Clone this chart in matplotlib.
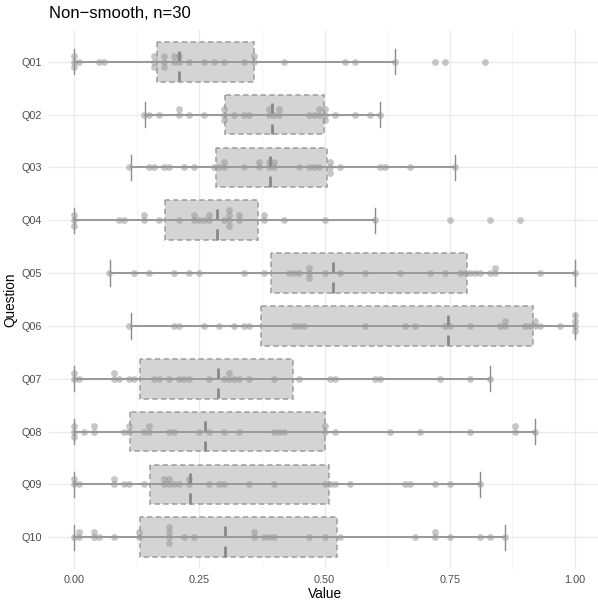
from matplotlib import pyplot as plt
import numpy as np

# values
questions = ['Q01', 'Q02', 'Q03', 'Q04', 'Q05', 'Q06', 'Q07', 'Q08', 'Q09', 'Q10']

q01 = [0, 0, 0, 0.01, 0.05, 0.06, 0.16, 0.16, 0.16, 0.18, 0.18, 0.18, 0.20, 0.20, 0.21, 0.21,
       0.23, 0.26, 0.28, 0.30, 0.34, 0.36, 0.36, 0.42, 0.54, 0.56, 0.64, 0.72, 0.74, 0.82]
q02 = [0.14, 0.15, 0.17, 0.21, 0.21, 0.23, 0.26, 0.30, 0.30, 0.30, 0.32, 0.34, 0.35, 0.39, 0.39,
       0.40, 0.41, 0.41, 0.47, 0.48, 0.49, 0.49, 0.50, 0.50, 0.50, 0.52, 0.56, 0.59, 0.61]
q03 = [0.11, 0.15, 0.16, 0.18, 0.19, 0.22, 0.24, 0.28, 0.29, 0.30, 0.30, 0.34, 0.37, 0.37, 0.39,
       0.39, 0.40, 0.40, 0.45, 0.47, 0.48, 0.49, 0.51, 0.51, 0.51, 0.53, 0.61, 0.62, 0.67, 0.76]
q04 = [0, 0, 0, 0.09, 0.10, 0.14, 0.14, 0.17, 0.21, 0.24, 0.24, 0.25, 0.26, 0.27, 0.27, 0.30,
       0.31, 0.31, 0.31, 0.31, 0.33, 0.33, 0.38, 0.38, 0.42, 0.50, 0.60, 0.75, 0.83, 0.89]
q05 = [0.07, 0.12, 0.15, 0.20, 0.23, 0.25, 0.34, 0.38, 0.43, 0.44, 0.45, 0.47, 0.47, 0.47, 0.50,
       0.53, 0.58, 0.65, 0.71, 0.74, 0.77, 0.78, 0.79, 0.80, 0.81, 0.83, 0.84, 0.84, 0.93, 1.00]
q06 = [0.11, 0.20, 0.21, 0.26, 0.29, 0.32, 0.34, 0.35, 0.44, 0.45, 0.46, 0.58, 0.66, 0.68, 0.74,
       0.75, 0.79, 0.85, 0.86, 0.86, 0.90, 0.91, 0.92, 0.92, 0.93, 0.97, 1.00, 1.00, 1.00, 1.00]
q07 = [0, 0, 0.01, 0.08, 0.08, 0.09, 0.11, 0.12, 0.16, 0.17, 0.19, 0.21, 0.22, 0.23, 0.27, 0.30,
       0.31, 0.31, 0.32, 0.33, 0.35, 0.40, 0.45, 0.51, 0.52, 0.60, 0.61, 0.73, 0.79, 0.83]
q08 = [0, 0, 0, 0.02, 0.04, 0.04, 0.10, 0.11, 0.11, 0.14, 0.15, 0.15, 0.19, 0.20, 0.25, 0.27,
       0.30, 0.33, 0.40, 0.41, 0.42, 0.50, 0.50, 0.52, 0.63, 0.69, 0.79, 0.88, 0.88, 0.92]
q09 = [0, 0, 0.01, 0.08, 0.08, 0.10, 0.11, 0.14, 0.18, 0.18, 0.19, 0.19, 0.20, 0.21, 0.23, 0.23,
       0.27, 0.29, 0.30, 0.35, 0.40, 0.50, 0.51, 0.52, 0.55, 0.66, 0.67, 0.72, 0.75, 0.81]
q10 = [0, 0.01, 0.01, 0.04, 0.04, 0.05, 0.08, 0.13, 0.13, 0.19, 0.19, 0.19, 0.19, 0.22, 0.24,
       0.36, 0.36, 0.38, 0.39, 0.40, 0.47, 0.50, 0.53, 0.68, 0.72, 0.72, 0.75, 0.81, 0.83, 0.86]
all_values = [q01, q02, q03, q04, q05, q06, q07, q08, q09, q10]

# box stats as drawn in the reference
box_q1 = [0.165, 0.301, 0.284, 0.181, 0.393, 0.374, 0.132, 0.112, 0.151, 0.132]
box_med = [0.210, 0.396, 0.391, 0.286, 0.516, 0.746, 0.287, 0.262, 0.232, 0.301]
box_q3 = [0.360, 0.499, 0.505, 0.368, 0.785, 0.917, 0.438, 0.500, 0.508, 0.524]
whisk_lo = [0.0, 0.142, 0.113, 0.0, 0.072, 0.113, 0.0, 0.0, 0.0, 0.0]
whisk_hi = [0.64, 0.61, 0.76, 0.60, 1.00, 1.00, 0.83, 0.92, 0.81, 0.86]

x_ticks = [0, 0.25, 0.5, 0.75, 1.0]
x_ticklabels = ['0.00', '0.25', '0.50', '0.75', '1.00']

STACK_STEP = 0.1
LINE_GRAY = '#9a9a9a'


def stack_offsets(vals, step):
  order = [0, -1, 1, -2, 2, -3, 3]
  counts = {}
  offs = []
  for v in vals:
    k = counts.get(v, 0)
    counts[v] = k + 1
    offs.append(order[k] * step)
  return np.array(offs)


plt.rcParams['font.family'] = ['Liberation Sans', 'DejaVu Sans']

fig = plt.figure(figsize = (5.98, 6.0), dpi = 100)
ax = fig.add_axes([49 / 598, 31 / 600, 551 / 598, 539 / 600])

positions = np.arange(1, len(questions) + 1)

stats = []
for i, q in enumerate(questions):
  stats.append({'label': q, 'q1': box_q1[i], 'med': box_med[i], 'q3': box_q3[i],
                'whislo': whisk_lo[i], 'whishi': whisk_hi[i], 'fliers': []})

bp = ax.bxp(stats, positions = positions, widths = 0.75, capwidths = 0.48,
            orientation = 'horizontal', patch_artist = True, showfliers = False,
            boxprops = dict(facecolor = '#d4d4d4', edgecolor = '#9c9c9c', linewidth = 1.1,
                            linestyle = (0, (3.5, 2.2))),
            whiskerprops = dict(color = LINE_GRAY, linewidth = 1.4),
            capprops = dict(color = '#8c8c8c', linewidth = 1.0),
            medianprops = dict(linewidth = 0))
for b in bp['boxes']:
  b.set_zorder(2)

# whisker line runs straight through the box
ax.hlines(positions, whisk_lo, whisk_hi, color = LINE_GRAY, linewidth = 1.4, zorder = 3)

for i, vals in enumerate(all_values):
  ys = positions[i] + stack_offsets(vals, STACK_STEP)
  ax.scatter(vals, ys, s = 24, color = '#999999', alpha = 0.55, linewidths = 0, zorder = 4)

# split median marks
ax.vlines(box_med, positions - 0.21, positions - 0.02, color = '#888888', linewidth = 2.0, zorder = 5)
ax.vlines(box_med, positions + 0.17, positions + 0.37, color = '#888888', linewidth = 2.0, zorder = 5)

ax.set_xlim(-0.05, 1.05)
ax.set_ylim(len(questions) + 0.6, 0.4)
ax.set_yticks(positions)
ax.set_yticklabels(questions)
ax.set_xticks(x_ticks)
ax.set_xticklabels(x_ticklabels)
ax.set_xticks([0.125, 0.375, 0.625, 0.875], minor = True)

ax.grid(True, which = 'major', color = '#ebebeb', linewidth = 1.0, zorder = 0)
ax.grid(True, which = 'minor', axis = 'x', color = '#f2f2f2', linewidth = 0.6, zorder = 0)
ax.set_axisbelow(True)
for s in ax.spines.values():
  s.set_visible(False)
ax.tick_params(which = 'both', length = 0, labelsize = 7.8, labelcolor = '#4d4d4d')
ax.tick_params(axis = 'y', pad = 5)
ax.tick_params(axis = 'x', pad = 4)

ax.set_xlabel('Value', fontsize = 9.8, labelpad = 2)
ax.set_ylabel('Question', fontsize = 9.8, labelpad = 3)
fig.text(49 / 598, 1 - 14 / 600, 'Non\u2212smooth, n=30', fontsize = 12, ha = 'left', va = 'center')

fig.savefig('out.png', dpi = 100)
